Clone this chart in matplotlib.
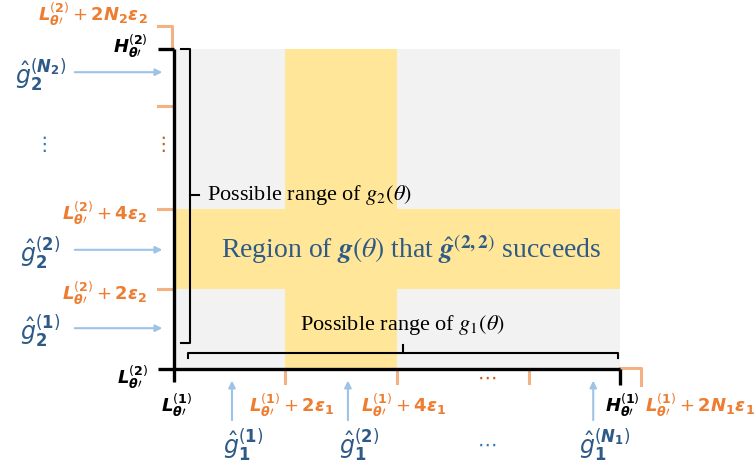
import matplotlib.pyplot as plt
from matplotlib.patches import Rectangle

# units: x in 2*eps1 steps from L1, y in 2*eps2 steps from L2
x_H = 4.0
y_H = 4.0
x_ticks = [1, 2, 3.18]          # L+2e1, L+4e1, ...
x_top = 4.19                    # L+2N1e1
y_ticks = [1, 2, 3.29]          # L+2e2, L+4e2, ...
y_top = 4.29                    # L+2N2e2
success_x = (1, 2)
success_y = (1, 2)
g1_hat_x = [0.52, 1.56, 3.76]
g2_hat_y = [0.51, 1.49, 3.71]

TH = r"\mathbfit{\theta}\prime"
x_tick_labels = [r"$\mathbfit{L}_{%s}^{(\mathbf{1})}+\mathbf{2}\mathbfit{\epsilon}_{\mathbf{1}}$" % TH,
                 r"$\mathbfit{L}_{%s}^{(\mathbf{1})}+\mathbf{4}\mathbfit{\epsilon}_{\mathbf{1}}$" % TH]
y_tick_labels = [r"$\mathbfit{L}_{%s}^{(\mathbf{2})}+\mathbf{2}\mathbfit{\epsilon}_{\mathbf{2}}$" % TH,
                 r"$\mathbfit{L}_{%s}^{(\mathbf{2})}+\mathbf{4}\mathbfit{\epsilon}_{\mathbf{2}}$" % TH]
g1_labels = [r"$\hat{g}_{\mathbf{1}}^{(\mathbf{1})}$", r"$\hat{g}_{\mathbf{1}}^{(\mathbf{2})}$",
             r"$\hat{g}_{\mathbf{1}}^{(\mathbfit{N}_{\mathbf{1}})}$"]
g2_labels = [r"$\hat{g}_{\mathbf{2}}^{(\mathbf{1})}$", r"$\hat{g}_{\mathbf{2}}^{(\mathbf{2})}$",
             r"$\hat{g}_{\mathbf{2}}^{(\mathbfit{N}_{\mathbf{2}})}$"]

orange = '#ED7D31'
orange_l = '#F4B183'
blue = '#2E5A87'
blue_l = '#9DC3E6'
gray = '#F2F2F2'
yellow = '#FFE699'

fig = plt.figure(figsize=(7.54, 4.73), dpi=100)
ax = fig.add_axes([0, 0, 1, 1])
ax.set_xlim(-1.5605, 5.2018)
ax.set_ylim(-1.3, 4.6125)
ax.axis('off')

# background and success region
ax.add_patch(Rectangle((0, 0), x_H, y_H, color=gray, lw=0, zorder=0))
ax.add_patch(Rectangle((success_x[0], 0), success_x[1] - success_x[0], y_H, color=yellow, lw=0, zorder=1))
ax.add_patch(Rectangle((0, success_y[0]), x_H, success_y[1] - success_y[0], color=yellow, lw=0, zorder=1))

# orange ticks
for x in x_ticks:
    ax.plot([x, x], [0, -0.17], color=orange_l, lw=2.2, zorder=2)
for y in y_ticks:
    ax.plot([-0.14, 0], [y, y], color=orange_l, lw=2.2, zorder=2)
ax.plot([-0.14, -0.015, -0.015], [y_top, y_top, y_H], color=orange_l, lw=2.2, zorder=2)
ax.plot([x_H, x_top, x_top], [0.015, 0.015, -0.2], color=orange_l, lw=2.2, zorder=2)

# black axes
ax.plot([0, 0], [-0.16, y_H], color='black', lw=2.4, zorder=3, solid_capstyle='butt')
ax.plot([-0.14, x_H], [0, 0], color='black', lw=2.4, zorder=3, solid_capstyle='butt')
ax.plot([-0.14, 0], [y_H, y_H], color='black', lw=2.4, zorder=3, solid_capstyle='butt')
ax.plot([x_H, x_H], [0, -0.2], color='black', lw=2.4, zorder=3, solid_capstyle='butt')

# braces
ax.plot([0.063, 0.143, 0.143, 0.063], [y_H, y_H, 0.325, 0.325], color='black', lw=1.5, zorder=3)
ax.plot([0.143, 0.224], [2.175, 2.175], color='black', lw=1.5, zorder=3)
ax.plot([0.126, 0.126, 3.98, 3.98], [0.1375, 0.204, 0.204, 0.1375], color='black', lw=1.5, zorder=3)
ax.plot([2.05, 2.05], [0.204, 0.30], color='black', lw=1.5, zorder=3)

# arrows for estimates
for x in g1_hat_x:
    ax.annotate('', xy=(x, -0.11), xytext=(x, -0.675),
                arrowprops=dict(arrowstyle='-|>', color=blue_l, lw=1.5, mutation_scale=10))
for y in g2_hat_y:
    ax.annotate('', xy=(-0.08, y), xytext=(-0.915, y),
                arrowprops=dict(arrowstyle='-|>', color=blue_l, lw=1.5, mutation_scale=10))

lab = dict(fontsize=13, math_fontfamily='dejavusans')
glab = dict(fontsize=17, math_fontfamily='dejavusans')
# y axis labels
ax.text(-0.233, 4.43, r"$\mathbfit{L}_{%s}^{(\mathbf{2})}+\mathbf{2}\mathbfit{N}_{\mathbf{2}}\mathbfit{\epsilon}_{\mathbf{2}}$" % TH,
        color=orange, ha='right', va='center', **lab)
ax.text(-0.233, 4.03, r"$\mathbfit{H}_{%s}^{(\mathbf{2})}$" % TH, color='black', ha='right', va='center', **lab)
for y, t in zip(y_ticks[:2], y_tick_labels):
    ax.text(-0.24, y - 0.05, t, color=orange, ha='right', va='center', **lab)
ax.text(-0.233, -0.1, r"$\mathbfit{L}_{%s}^{(\mathbf{2})}$" % TH, color='black', ha='right', va='center', **lab)
for y, t in zip(g2_hat_y, g2_labels):
    ax.text(-1.2, y - 0.04, t, color=blue, ha='center', va='center', **glab)
ax.text(-0.1, 2.8, '⋮', color='#C55A11', ha='center', va='center', fontsize=14)
ax.text(-1.17, 2.8, '⋮', color='#2E75B6', ha='center', va='center', fontsize=14)

# x axis labels
ax.text(0.02, -0.45, r"$\mathbfit{L}_{%s}^{(\mathbf{1})}$" % TH, color='black', ha='center', va='center', **lab)
for x, t in zip(x_ticks[:2], x_tick_labels):
    ax.text(x + 0.06, -0.45, t, color=orange, ha='center', va='center', **lab)
ax.text(x_H + 0.02, -0.45, r"$\mathbfit{H}_{%s}^{(\mathbf{1})}$" % TH, color='black', ha='center', va='center', **lab)
ax.text(x_top + 0.03, -0.45, r"$\mathbfit{L}_{%s}^{(\mathbf{1})}+\mathbf{2}\mathbfit{N}_{\mathbf{1}}\mathbfit{\epsilon}_{\mathbf{1}}$" % TH,
        color=orange, ha='left', va='center', **lab)
for x, t in zip(g1_hat_x, g1_labels):
    ax.text(x + 0.1, -0.95, t, color=blue, ha='center', va='center', **glab)
ax.text(2.81, -0.12, '⋯', color='#C55A11', ha='center', va='center', fontsize=14)
ax.text(2.81, -0.95, '⋯', color='#2E75B6', ha='center', va='center', fontsize=14)

# range and region texts
ax.text(0.3, 2.175, r"Possible range of $g_2(\theta)$", family='Liberation Serif', fontsize=16,
        math_fontfamily='stix', ha='left', va='center', color='black', zorder=4)
ax.text(2.05, 0.55, r"Possible range of $g_1(\theta)$", family='Liberation Serif', fontsize=16,
        math_fontfamily='stix', ha='center', va='center', color='black', zorder=4)
ax.text(2.13, 1.5, r"Region of $\boldsymbol{g}(\theta)$ that $\hat{\boldsymbol{g}}^{(\mathbf{2,2})}$ succeeds",
        family='Liberation Serif', fontsize=20, math_fontfamily='stix', ha='center', va='center', color=blue, zorder=4)

fig.savefig('out.png', dpi=100)
